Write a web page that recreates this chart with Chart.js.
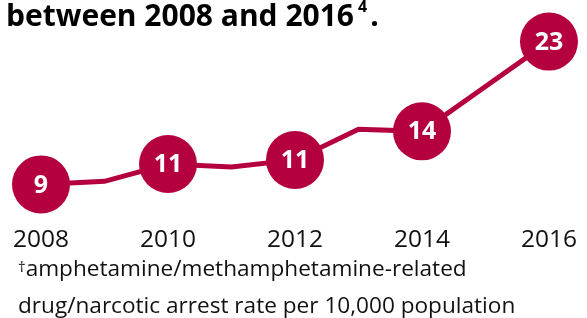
<!DOCTYPE html>
<html>
<head>
<meta charset="utf-8">
<script src="https://cdn.jsdelivr.net/npm/chart.js@4"></script>
<style>
html,body{margin:0;padding:0;background:#fff;}
#wrap{position:relative;width:587px;height:318px;overflow:hidden;font-family:"Open Sans",sans-serif;color:#111;}
#chart{position:absolute;left:0;top:0;}
#title{position:absolute;left:6px;top:-6px;font-weight:bold;font-size:30px;white-space:nowrap;color:#000;}
#title sup{font-size:16px;vertical-align:14px;margin-left:4px;margin-right:3px;}
.note{position:absolute;left:18px;font-size:22.6px;white-space:nowrap;color:#111;}
.note sup{font-size:15px;vertical-align:4px;}
</style>
</head>
<body>
<div id="wrap">
<canvas id="chart" width="587" height="318"></canvas>
<div id="title">between 2008 and 2016<sup>4</sup>.</div>
<div class="note" style="top:252px"><sup>†</sup>amphetamine/methamphetamine-related</div>
<div class="note" style="top:289px">drug/narcotic arrest rate per 10,000 population</div>
</div>
<script>
// arrest rate per 10,000 population
let years = [2008,2009,2010,2011,2012,2013,2014,2015,2016];
let rates = [9.0,9.3,11.0,10.7,11.4,14.4,14.2,18.6,23.0];
let labelledYears = [2008,2010,2012,2014,2016];
let tickYears = [2008,2010,2012,2014,2016];

let red = "#b5003f";

const valueLabels = {
id:"valueLabels",
afterDatasetsDraw(chart){
let ctx = chart.ctx;
let meta = chart.getDatasetMeta(0);
ctx.save();
ctx.fillStyle = "#fff";
ctx.font = "bold 25px 'Open Sans'";
ctx.textAlign = "center";
ctx.textBaseline = "middle";
meta.data.forEach((pt,i)=>{
if(labelledYears.indexOf(years[i]) < 0) return;
ctx.fillText(Math.round(rates[i]), pt.x, pt.y+1);
});
ctx.restore();
}
};

new Chart(document.getElementById("chart"),{
type:"line",
data:{
datasets:[{
data:years.map((y,i)=>({x:y,y:rates[i]})),
borderColor:red,
backgroundColor:red,
borderWidth:5,
tension:0,
clip:false,
pointRadius:ctx=> labelledYears.indexOf(years[ctx.dataIndex]) >= 0 ? 29 : 0,
pointHoverRadius:ctx=> labelledYears.indexOf(years[ctx.dataIndex]) >= 0 ? 29 : 0,
pointBorderWidth:0,
pointBackgroundColor:red
}]
},
options:{
responsive:false,
animation:false,
events:[],
layout:{autoPadding:false,padding:{left:41,right:32,top:11,bottom:62}},
plugins:{legend:{display:false},tooltip:{enabled:false}},
scales:{
x:{
type:"linear",
min:2008,max:2016,
afterBuildTicks:s=>{ s.ticks = tickYears.map(v=>({value:v})); },
afterFit:s=>{ s.height = 41; },
grid:{display:false,drawTicks:false},
border:{display:false},
ticks:{
padding:10,
maxRotation:0,
color:"#111",
font:{family:"Open Sans",size:24.5},
callback:v=>String(v)
}
},
y:{
display:false,
min:6,max:26
}
}
},
plugins:[valueLabels]
});
</script>
</body>
</html>
